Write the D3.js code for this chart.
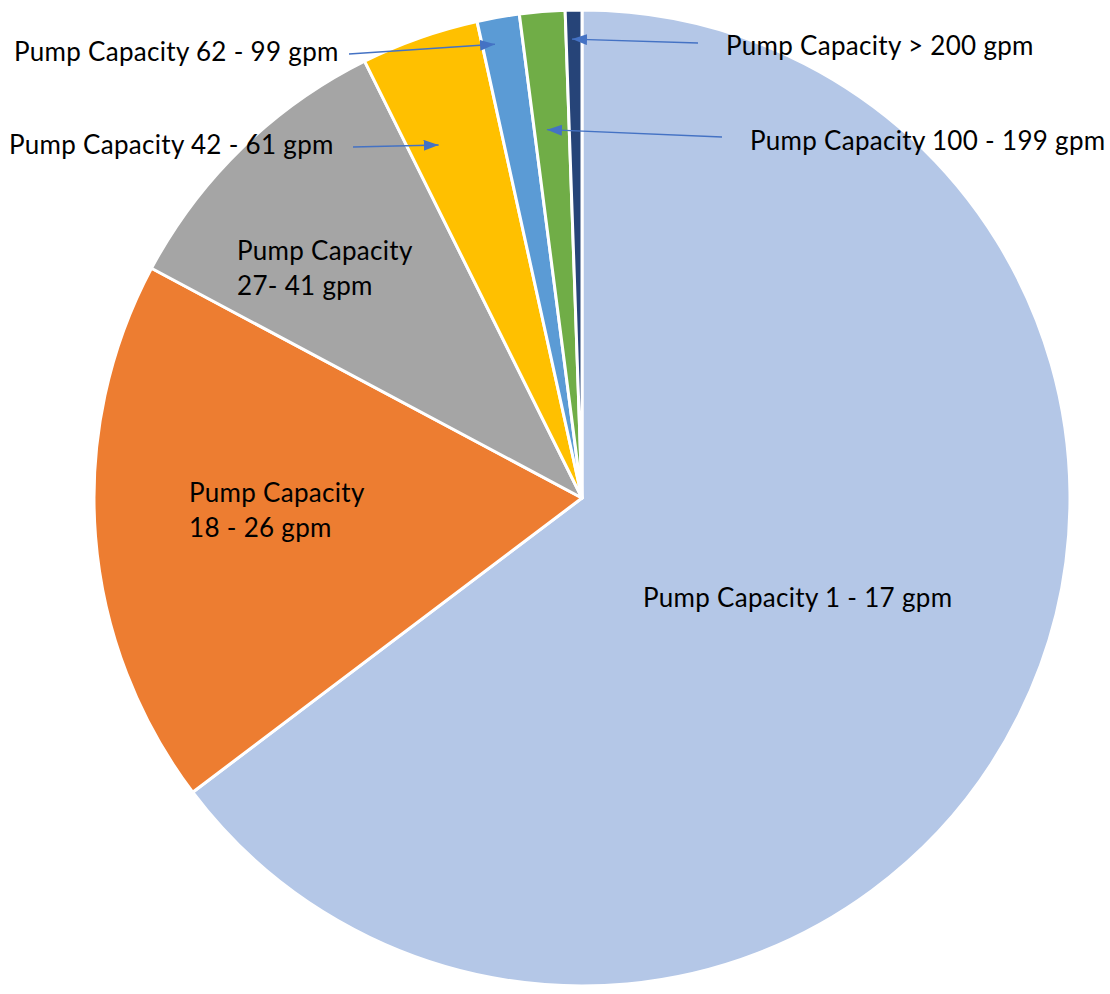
<!DOCTYPE html>
<html>
<head>
<meta charset="utf-8">
<script src="https://cdn.jsdelivr.net/npm/d3@7"></script>
<style>
  body { margin: 0; background: #fff; }
  svg { display: block; }
  text { font-family: Lato, "Open Sans", sans-serif; fill: #000; }
</style>
</head>
<body>
<div id="chart"></div>
<script>
// share of pumps by capacity class (percent)
const categories = [
  "Pump Capacity 1 - 17 gpm",
  "Pump Capacity 18 - 26 gpm",
  "Pump Capacity 27- 41 gpm",
  "Pump Capacity 42 - 61 gpm",
  "Pump Capacity 62 - 99 gpm",
  "Pump Capacity 100 - 199 gpm",
  "Pump Capacity > 200 gpm"
]
const shares = [64.7, 18.1, 9.85, 3.9, 1.4, 1.5, 0.55]
const colors = ["#B4C7E7", "#ED7D31", "#A5A5A5", "#FFC000", "#5B9BD5", "#70AD47", "#264478"]

// where each label goes; callouts point into the slice (t = fraction across slice, r = radius)
const labelLines = [
  ["Pump Capacity 1 - 17 gpm"],
  ["Pump Capacity", "18 - 26 gpm"],
  ["Pump Capacity", "27- 41 gpm"],
  ["Pump Capacity 42 - 61 gpm"],
  ["Pump Capacity 62 - 99 gpm"],
  ["Pump Capacity 100 - 199 gpm"],
  ["Pump Capacity > 200 gpm"]
]
const labelPos = [
  {x: 643, y: 607},
  {x: 189, y: 502},
  {x: 237, y: 260},
  {x: 9, y: 154, from: [353, 147], t: 0.31, r: 381},
  {x: 14, y: 61, from: [349, 54], t: 0.31, r: 462},
  {x: 750, y: 150, from: [722, 137], t: 0.36, r: 370},
  {x: 726, y: 55, from: [698, 43], t: 0.37, r: 459}
]

const width = 1110, height = 994
const cx = 582, cy = 498, radius = 488

const svg = d3.select("#chart").append("svg")
  .attr("width", width)
  .attr("height", height)

svg.append("defs").append("marker")
  .attr("id", "arrow")
  .attr("viewBox", "0 0 10 10")
  .attr("refX", 10).attr("refY", 5)
  .attr("markerWidth", 15).attr("markerHeight", 11)
  .attr("markerUnits", "userSpaceOnUse")
  .attr("orient", "auto")
  .attr("preserveAspectRatio", "none")
  .append("path")
  .attr("d", "M0,0 L10,5 L0,10 Z")
  .attr("fill", "#4472C4")

const g = svg.append("g").attr("transform", "translate(" + cx + "," + cy + ")")

const pie = d3.pie().sort(null).value(d => d)
const arc = d3.arc().innerRadius(0).outerRadius(radius)
const arcs = pie(shares)

g.selectAll("path.slice")
  .data(arcs)
  .enter().append("path")
  .attr("class", "slice")
  .attr("d", arc)
  .attr("fill", (d, i) => colors[i])
  .attr("stroke", "#fff")
  .attr("stroke-width", 3)
  .attr("stroke-linejoin", "round")

// callout arrows
arcs.forEach(function(d, i) {
  let p = labelPos[i]
  if (!p.from) return
  let a = d.startAngle + (d.endAngle - d.startAngle) * p.t
  let tx = cx + p.r * Math.sin(a)
  let ty = cy - p.r * Math.cos(a)
  svg.append("line")
    .attr("x1", p.from[0]).attr("y1", p.from[1])
    .attr("x2", tx).attr("y2", ty)
    .attr("stroke", "#4472C4")
    .attr("stroke-width", 1.3)
    .attr("marker-end", "url(#arrow)")
})

// labels
const labels = svg.selectAll("text.lbl")
  .data(labelLines)
  .enter().append("text")
  .attr("class", "lbl")
  .attr("font-size", 26)
  .attr("letter-spacing", 0.3)
  .attr("x", (d, i) => labelPos[i].x)
  .attr("y", (d, i) => labelPos[i].y)

labels.selectAll("tspan")
  .data((d, i) => d.map(s => ({s: s, x: labelPos[i].x})))
  .enter().append("tspan")
  .attr("x", d => d.x)
  .attr("dy", (d, j) => j === 0 ? 0 : 35)
  .text(d => d.s)
</script>
</body>
</html>
